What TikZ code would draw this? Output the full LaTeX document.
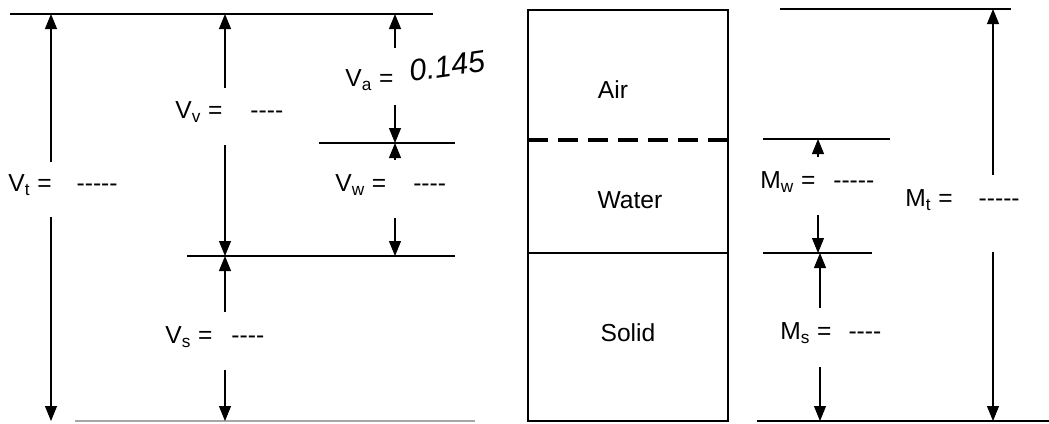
\documentclass[tikz,border=0pt]{standalone}
\usepackage{fontspec}
\setmainfont{Liberation Sans}[Ligatures=TeXOff]
\usetikzlibrary{arrows.meta}

\begin{document}
\begin{tikzpicture}[
    x=0.2mm, y=-0.2mm,
    lvl/.style={line width=0.8pt},
    dim/.style={line width=0.6pt, -{Triangle[length=3mm, width=2.4mm]}},
    lbl/.style={anchor=west, inner sep=0pt, font=\fontsize{14}{16}\selectfont},
    phase/.style={font=\fontsize{14}{16}\selectfont},
    wall/.style={line width=1.6pt}
]
    \useasboundingbox (0,0) rectangle (1049,423);

    % --- 1. VOLUMES ---
    \coordinate (vtop-w) at (10,14);  \coordinate (vtop-e) at (433,14);
    \coordinate (vaw-w) at (319,143); \coordinate (vaw-e) at (455,143);
    \coordinate (vvs-w) at (187,256); \coordinate (vvs-e) at (455,256);
    \coordinate (vbot-w) at (75,421); \coordinate (vbot-e) at (475,421);

    \draw[lvl] (vtop-w) -- (vtop-e);
    \draw[lvl] (vaw-w) -- (vaw-e);
    \draw[lvl] (vvs-w) -- (vvs-e);
    \draw[lvl, black!35] (vbot-w) -- (vbot-e);

    \node[lbl] (vt) at (8,185) {V\textsubscript{t} =\hspace{5mm}-----};
    \node[lbl] (vv) at (175,112) {V\textsubscript{v} =\hspace{5.6mm}----};
    \node[lbl] (va) at (345,80) {V\textsubscript{a} =};
    \node[rotate=8, font=\itshape\LARGE] (va-val) at (447,66) {0.145};
    \node[lbl] (vw) at (335,185) {V\textsubscript{w} =\hspace{5.4mm}----};
    \node[lbl] (vs) at (165,337) {V\textsubscript{s} =\hspace{3.8mm}----};

    \coordinate (vt-a) at (51,162);  \coordinate (vt-b) at (51,217);
    \coordinate (vv-a) at (225,88);  \coordinate (vv-b) at (225,145);
    \coordinate (vs-a) at (225,312); \coordinate (vs-b) at (225,370);
    \coordinate (va-a) at (395,48);  \coordinate (va-b) at (395,105);
    \coordinate (vw-a) at (395,160); \coordinate (vw-b) at (395,218);

    \draw[dim] (vt-a) -- (vt-a |- vtop-w); \draw[dim] (vt-b) -- (vt-b |- vbot-w);
    \draw[dim] (vv-a) -- (vv-a |- vtop-w); \draw[dim] (vv-b) -- (vv-b |- vvs-w);
    \draw[dim] (vs-a) -- (vs-a |- vvs-w);  \draw[dim] (vs-b) -- (vs-b |- vbot-w);
    \draw[dim] (va-a) -- (va-a |- vtop-w); \draw[dim] (va-b) -- (va-b |- vaw-w);
    \draw[dim] (vw-a) -- (vw-a |- vaw-w);  \draw[dim] (vw-b) -- (vw-b |- vvs-w);

    % --- 2. PHASES ---
    \coordinate (box-nw) at (528,10); \coordinate (box-se) at (728,421);
    \draw[wall] (box-nw) rectangle (box-se);
    \draw[wall, line width=2pt, dash pattern=on 4mm off 2mm] (528,140) -- (728,140);
    \draw[wall] (528,253) -- (728,253);

    \node[phase] (air) at (613,90) {Air};
    \node[phase] (water) at (630,200) {Water};
    \node[phase] (solid) at (628,333) {Solid};

    % --- 3. MASSES ---
    \coordinate (mtop-w) at (780,9);  \coordinate (mtop-e) at (1011,9);
    \coordinate (mw-w) at (763,139);  \coordinate (mw-e) at (890,139);
    \coordinate (ms-w) at (763,253);  \coordinate (ms-e) at (872,253);
    \coordinate (mbot-w) at (757,421); \coordinate (mbot-e) at (1049,421);

    \draw[lvl] (mtop-w) -- (mtop-e);
    \draw[lvl] (mw-w) -- (mw-e);
    \draw[lvl] (ms-w) -- (ms-e);
    \draw[lvl] (mbot-w) -- (mbot-e);

    \node[lbl] (mw) at (760,182) {M\textsubscript{w} =\hspace{3.6mm}-----};
    \node[lbl] (mt) at (905,200) {M\textsubscript{t} =\hspace{5.2mm}-----};
    \node[lbl] (ms) at (780,333) {M\textsubscript{s} =\hspace{3.4mm}----};

    \coordinate (mt-a) at (993,175); \coordinate (mt-b) at (993,252);
    \coordinate (mw-a) at (818,157); \coordinate (mw-b) at (818,215);
    \coordinate (ms-a) at (820,308); \coordinate (ms-b) at (820,367);

    \draw[dim] (mt-a) -- (mt-a |- mtop-w); \draw[dim] (mt-b) -- (mt-b |- mbot-w);
    \draw[dim] (mw-a) -- (mw-a |- mw-w);   \draw[dim] (mw-b) -- (mw-b |- ms-w);
    \draw[dim] (ms-a) -- (ms-a |- ms-w);   \draw[dim] (ms-b) -- (ms-b |- mbot-w);
\end{tikzpicture}
\end{document}
